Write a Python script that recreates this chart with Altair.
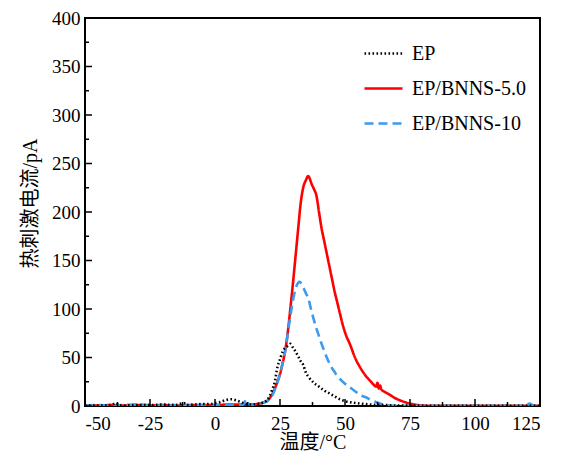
import altair as alt
import pandas as pd

# ---- data ----
ep_x = [-50, -45, -40, -38, -37, -35, -30, -25, -20, -15, -12, -11, -8, -5, -2, 0, 2, 4, 6, 8, 10, 12,
        14, 16, 18, 20, 21, 22, 23, 24, 25, 26, 27, 28, 29, 30, 31, 32, 33, 34, 35, 36, 38, 40, 42, 44,
        46, 48, 50, 53, 56, 60, 65, 70, 80, 90, 100, 110, 120, 125]
ep_y = [0.5, 0.5, 1, 3, 1, 0.5, 1, 1, 1.5, 1, 3, 1, 1.5, 2, 2, 3, 4, 6, 7, 6, 4, 2,
        1.5, 2, 3, 6, 10, 17, 25, 40, 48, 56, 60, 62, 64, 60, 56, 51, 46, 42, 34, 30, 24, 20, 16, 13,
        10, 7, 5, 3.5, 2.5, 1.5, 1, 0.5, 0.3, 0.2, 0.2, 0.2, 0.2, 0.2]

bn5_x = [-50, -45, -40, -35, -30, -25, -20, -15, -10, -5, 0, 5, 10, 14, 17, 19, 20, 21, 22, 23, 24, 25,
         26, 27, 28, 29, 30, 31, 32, 33, 34, 35, 35.8, 36.5, 37, 38, 39, 40, 41, 42, 43, 44, 45, 46, 47,
         48, 49, 50, 52, 54, 56, 58, 60, 61, 62, 62.5, 63, 63.5, 64, 65, 67, 69, 71, 73, 75, 78, 80, 85,
         90, 100, 110, 125]
bn5_y = [0.5, 0.5, 1, 0.5, 1, 0.5, 1, 0.5, 1, 1, 1, 1.5, 1.5, 1.5, 2.5, 4, 5, 8, 12, 18, 25, 33,
         44, 57, 76, 101, 127, 155, 183, 210, 226, 233, 237, 234, 230, 224, 217, 200, 183, 170, 157,
         144, 131, 118, 107, 96, 85, 76, 63, 49, 39, 31, 25, 22, 20, 24, 18, 21, 17, 15, 12, 8.5, 6,
         4, 2.5, 1, 0.4, 0.2, 0.1, 0.1, 0.1, 0.1]

bn10_x = [-50, -45, -40, -35, -30, -25, -20, -15, -10, -5, 0, 5, 10, 11, 12, 13, 14, 16, 18, 20, 22,
          24, 26, 27, 28, 29, 30, 31, 32, 32.5, 33, 34, 35, 36, 37, 38, 39, 40, 41, 42, 43, 44, 45, 46,
          47, 48, 50, 52, 54, 56, 58, 60, 62, 64, 67, 70, 80, 90, 100, 110, 118, 120, 121, 122, 123, 125]
bn10_y = [0.5, 1, 0.5, 1, 1.5, 1, 0.5, 1, 0.5, 1, 1, 1, 1, 2, 7, 2, 1, 2, 3, 5, 11,
          24, 44, 57, 75, 93, 109, 121, 127, 128, 127, 122, 116, 110, 99, 89, 80, 72, 64, 57, 50, 44,
          39, 35, 31, 28, 23, 19, 15, 11, 9, 6, 4, 2, 0.5, 0.3, 0.2, 0.2, 0.2, 0.2, 0.3, 1, 2.5, 1, 0.5, 0.5]

names = ["EP", "EP/BNNS-5.0", "EP/BNNS-10"]
colors = ["#000000", "#ff0000", "#3a9bef"]
dashes = [[1.6, 2.4], [1, 0], [9, 5]]

x_major = [-50, -25, 0, 25, 50, 75, 100, 125]
x_minor = [-37.5, -12.5, 12.5, 37.5, 62.5, 87.5, 112.5]
y_major = [0, 50, 100, 150, 200, 250, 300, 350, 400]
y_minor = [25, 75, 125, 175, 225, 275, 325, 375]

# ---- tables ----
rows = []
for nm, xs_, ys_ in [(names[1], bn5_x, bn5_y), (names[2], bn10_x, bn10_y), (names[0], ep_x, ep_y)]:
    for i, (a, b) in enumerate(zip(xs_, ys_)):
        rows.append({"series": nm, "T": a, "I": b, "i": i})
df = pd.DataFrame(rows)

W, H = 455, 388
serif = "'Liberation Serif', 'Noto Sans CJK SC', serif"

xs = alt.Scale(domain=[-50, 125], nice=False, zero=False)
ys = alt.Scale(domain=[0, 400], nice=False)

lines = alt.Chart(df).mark_line(strokeWidth=2.6, clip=True, interpolate="monotone").encode(
    x=alt.X("T:Q", scale=xs, axis=alt.Axis(
        values=x_major, title="温度/°C", labelExpr="datum.value + ''",
        labelPadding=8, titleY=36, titleBaseline="middle")),
    y=alt.Y("I:Q", scale=ys, axis=alt.Axis(
        values=y_major, title="热刺激电流/pA", labelPadding=5,
        titleX=-55, titleY=185, titleBaseline="middle")),
    color=alt.Color("series:N", scale=alt.Scale(domain=names, range=colors),
                    legend=alt.Legend(title=None, orient="none", legendX=278, legendY=15)),
    strokeDash=alt.StrokeDash("series:N", scale=alt.Scale(domain=names, range=dashes),
                              legend=alt.Legend(title=None, orient="none", legendX=278, legendY=15)),
    detail="series:N",
    order="i:Q",
)

xmaj = alt.Chart(pd.DataFrame({"v": x_major})).mark_rule(color="black", strokeWidth=1.5).encode(
    x=alt.X("v:Q", scale=xs), y=alt.value(H), y2=alt.value(H - 7))
xmin = alt.Chart(pd.DataFrame({"v": x_minor})).mark_rule(color="black", strokeWidth=1.5).encode(
    x=alt.X("v:Q", scale=xs), y=alt.value(H), y2=alt.value(H - 4))
ymaj = alt.Chart(pd.DataFrame({"v": y_major})).mark_rule(color="black", strokeWidth=1.5).encode(
    y=alt.Y("v:Q", scale=ys), x=alt.value(0), x2=alt.value(7))
ymin = alt.Chart(pd.DataFrame({"v": y_minor})).mark_rule(color="black", strokeWidth=1.5).encode(
    y=alt.Y("v:Q", scale=ys), x=alt.value(0), x2=alt.value(4))

chart = alt.layer(lines, xmaj, xmin, ymaj, ymin).properties(
    width=W, height=H,
    autosize=alt.AutoSizeParams(type="none"),
    padding={"left": 77, "top": 10, "right": 10, "bottom": 47},
).configure_view(stroke="black", strokeWidth=2).configure_axis(
    domain=False, ticks=False, grid=False,
    labelFont=serif, labelFontSize=19, labelColor="black",
    titleFont=serif, titleFontSize=20, titleFontWeight="normal", titleColor="black",
).configure_legend(
    labelFont=serif, labelFontSize=20, labelColor="black",
    symbolType="stroke", symbolSize=1444, symbolStrokeWidth=2.5,
    labelOffset=8, rowPadding=4,
)

chart.save("out.html", embed_options={"renderer": "svg", "actions": False})
